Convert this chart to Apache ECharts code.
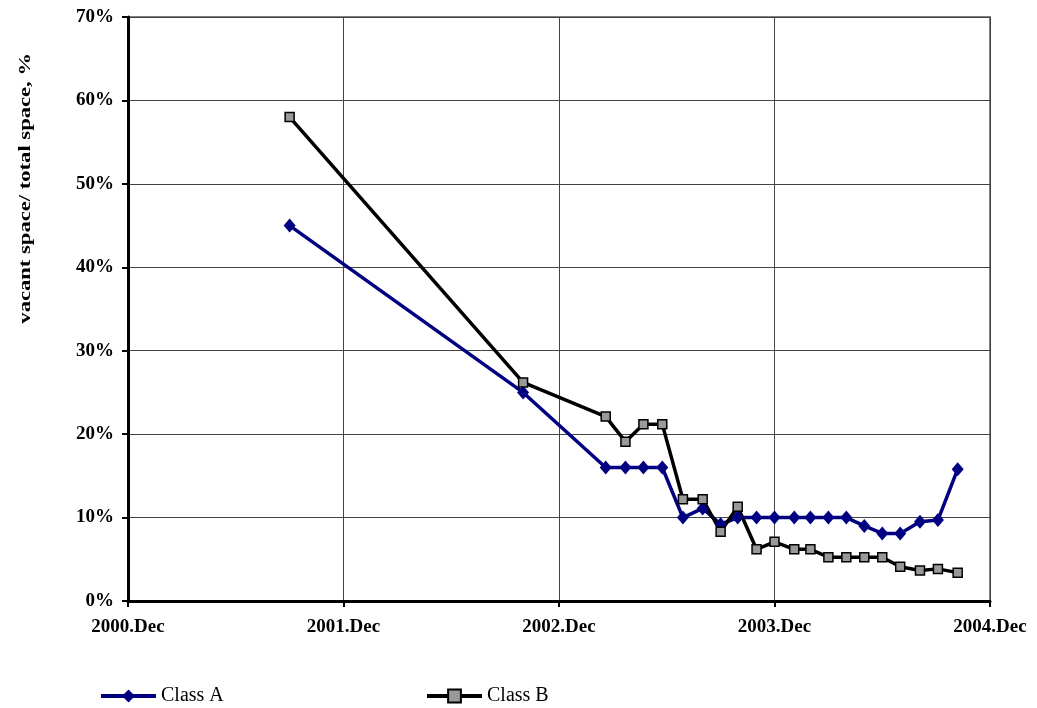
<!DOCTYPE html>
<html>
<head>
<meta charset="utf-8">
<script src="https://cdn.jsdelivr.net/npm/echarts@6/dist/echarts.min.js"></script>
<style>
  html, body { margin: 0; padding: 0; background: #fff; }
  #chart { width: 1037px; height: 708px; }
</style>
</head>
<body>
<div id="chart"></div>
<script>
// months counted from 2000.Dec
const monthPos = [9, 22, 26.6, 27.7, 28.7, 29.75, 30.9, 32, 33, 33.95, 35, 36, 37.1, 38, 39, 40, 41, 42, 43, 44.1, 45.1, 46.2]
const classA = [45, 25, 16, 16, 16, 16, 10, 11.1, 9.2, 10, 10, 10, 10, 10, 10, 10, 9.0, 8.1, 8.1, 9.5, 9.7, 15.8]
const classB = [58, 26.2, 22.1, 19.1, 21.2, 21.2, 12.2, 12.2, 8.3, 11.3, 6.2, 7.1, 6.2, 6.2, 5.25, 5.25, 5.25, 5.25, 4.1, 3.65, 3.85, 3.4]
const xTickLabels = ['2000.Dec', '2001.Dec', '2002.Dec', '2003.Dec', '2004.Dec']
const seriesNames = ['Class A', 'Class B']

const serif = '"Liberation Serif", "Times New Roman", serif'

const chart = echarts.init(document.getElementById('chart'))

const legendStyle = {
  top: 681,
  itemWidth: 55,
  itemHeight: 16,
  lineStyle: { width: 4 },
  textStyle: { fontFamily: serif, fontSize: 20, color: '#000' }
}

const option = {
  animation: false,
  legend: [
    Object.assign({ data: [seriesNames[0]], left: 94 }, legendStyle),
    Object.assign({ data: [seriesNames[1]], left: 420 }, legendStyle)
  ],
  graphic: [
    {
      type: 'text',
      left: 17,
      top: 53,
      rotation: Math.PI / 2,
      scaleX: 1.33,
      style: {
        text: 'vacant space/ total space, %',
        font: 'bold 17px ' + serif,
        fill: '#000'
      }
    }
  ],
  grid: {
    left: 128,
    right: 47,
    top: 17,
    bottom: 107,
    show: true,
    borderColor: '#808080',
    borderWidth: 2
  },
  xAxis: {
    type: 'value',
    min: 0,
    max: 48,
    interval: 12,
    axisLine: { lineStyle: { color: '#000', width: 3 } },
    axisTick: { show: true, length: 6, lineStyle: { color: '#000', width: 2 } },
    axisLabel: {
      margin: 17,
      fontFamily: serif,
      fontWeight: 'bold',
      fontSize: 19,
      color: '#000',
      formatter: v => xTickLabels[v / 12]
    },
    splitLine: { show: true, lineStyle: { color: '#444', width: 1 } }
  },
  yAxis: {
    type: 'value',
    min: 0,
    max: 70,
    interval: 10,
    axisLine: { show: true, lineStyle: { color: '#000', width: 3 } },
    axisTick: { show: true, length: 6, lineStyle: { color: '#000', width: 2 } },
    axisLabel: {
      margin: 14,
      fontFamily: serif,
      fontWeight: 'bold',
      fontSize: 19,
      color: '#000',
      formatter: '{value}%'
    },
    splitLine: { show: true, lineStyle: { color: '#444', width: 1 } }
  },
  series: [
    {
      name: seriesNames[0],
      type: 'line',
      data: monthPos.map((m, i) => [m, classA[i]]),
      symbol: 'diamond',
      symbolSize: [12, 14],
      lineStyle: { color: '#000080', width: 3.5 },
      itemStyle: { color: '#000080' }
    },
    {
      name: seriesNames[1],
      type: 'line',
      data: monthPos.map((m, i) => [m, classB[i]]),
      symbol: 'rect',
      symbolSize: 9,
      lineStyle: { color: '#000', width: 3.5 },
      itemStyle: { color: '#999999', borderColor: '#000', borderWidth: 1.5 }
    }
  ]
}

chart.setOption(option)
</script>
</body>
</html>
